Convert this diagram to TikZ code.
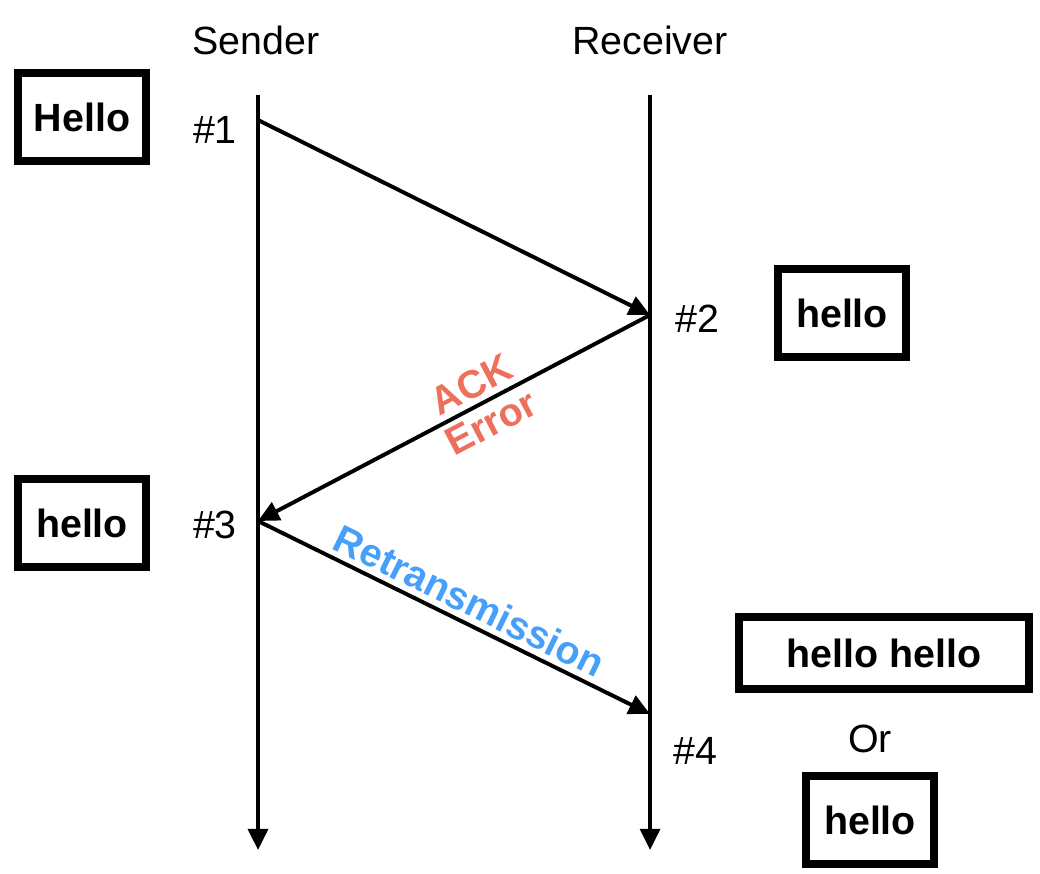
\documentclass[tikz,border=0pt]{standalone}
\usepackage{fontspec}
\setmainfont{Liberation Sans}
\usetikzlibrary{arrows.meta}
\definecolor{ackred}{RGB}{236,112,92}
\definecolor{rtxblue}{RGB}{70,160,250}

\begin{document}
\begin{tikzpicture}[x=0.025cm,y=-0.025cm,>={Triangle[length=15pt,width=14pt]},
    lbl/.style={font=\fontsize{28}{34}\selectfont,anchor=base,inner sep=0pt},
    msgbox/.style={draw,line width=5.7pt,font=\bfseries\fontsize{28}{34}\selectfont,
      minimum width=3.2cm,minimum height=2.22cm,inner sep=0pt},
    flow/.style={->,line width=2.8pt},
    tag/.style={font=\bfseries\fontsize{28}{34}\selectfont,sloped,inner sep=4pt}]
    \useasboundingbox (0,0) rectangle (1040,874);

    % lifelines
    \node[lbl] (sender) at (256,55) {Sender};
    \node[lbl] (receiver) at (650,55) {Receiver};
    \coordinate (s0) at (258,95);
    \coordinate (s1) at (258,850);
    \coordinate (r0) at (650,95);
    \coordinate (r1) at (650,850);
    \draw[flow] (s0) -- (s1);
    \draw[flow] (r0) -- (r1);

    % message events
    \coordinate (m1) at (258,120);
    \coordinate (m2) at (650,315);
    \coordinate (m3) at (258,521);
    \coordinate (m4) at (650,714);
    \node[lbl] (n1) at (215,144) {\#1};
    \node[lbl] (n2) at (697,332) {\#2};
    \node[lbl] (n3) at (215,538) {\#3};
    \node[lbl] (n4) at (695,764) {\#4};

    \draw[flow] (m1) -- (m2);
    \draw[flow] (m2) -- (m3)
      node[tag,pos=0.43,above,text=ackred] (ack) {ACK}
      node[tag,pos=0.43,below,text=ackred] (err) {Error};
    \draw[flow] (m3) -- (m4)
      node[tag,pos=0.515,above,text=rtxblue] (rtx) {Retransmission};

    % buffers
    \node[msgbox] (buf1) at (82,117) {Hello};
    \node[msgbox] (buf2) at (842,313) {hello};
    \node[msgbox] (buf3) at (82,523) {hello};
    \node[msgbox,minimum width=7.25cm,minimum height=1.8cm] (buf4a) at (884,653) {hello hello};
    \node[lbl] (alt) at (870,752) {Or};
    \node[msgbox] (buf4b) at (870,820) {hello};
\end{tikzpicture}
\end{document}
